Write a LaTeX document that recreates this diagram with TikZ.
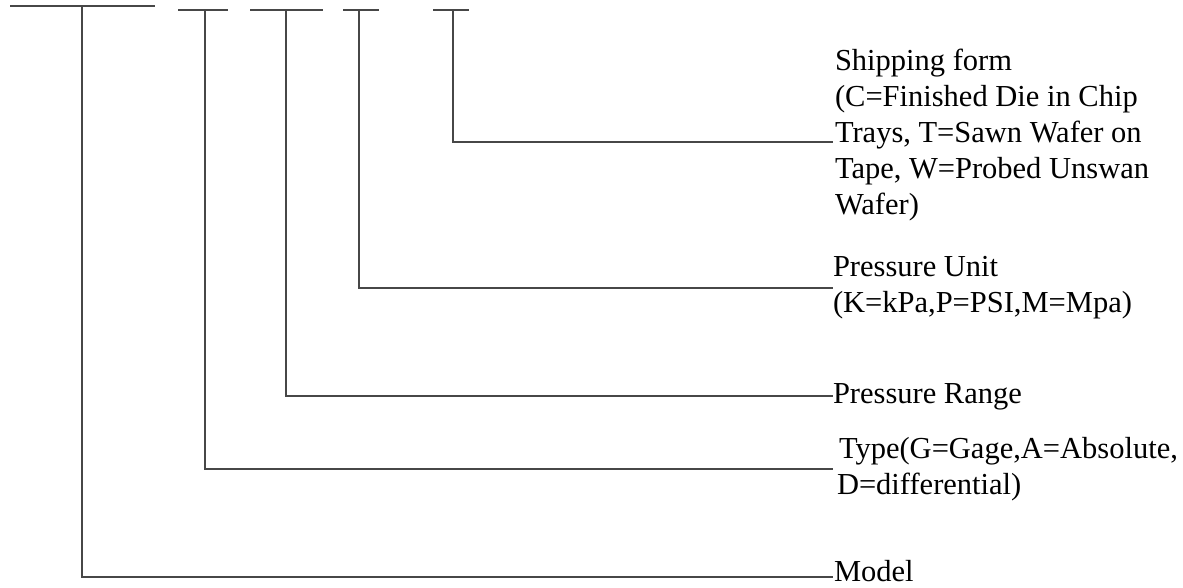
\documentclass[tikz,border=0pt]{standalone}
\usepackage{fontspec}
\setmainfont{Liberation Serif}
\begin{document}
\begin{tikzpicture}[x=1pt,y=-1pt,
  wire/.style={line width=1.4pt, draw=black!72},
  lbl/.style={anchor=base west, inner sep=0pt, outer sep=0pt, font=\fontsize{30.5}{36}\selectfont}]
\useasboundingbox (0,0) rectangle (1183,587);
% code template bars
\coordinate (b1l) at (10,6);   \coordinate (b1r) at (155,6);   \coordinate (s1) at (82,6);
\coordinate (b2l) at (178,10); \coordinate (b2r) at (228,10);  \coordinate (s2) at (205,10);
\coordinate (b3l) at (250,10); \coordinate (b3r) at (323,10);  \coordinate (s3) at (286,10);
\coordinate (b4l) at (343,10); \coordinate (b4r) at (379,10);  \coordinate (s4) at (359,10);
\coordinate (b5l) at (433,10); \coordinate (b5r) at (469,10);  \coordinate (s5) at (453,10);
\foreach \i in {1,...,5} { \draw[wire] (b\i l) -- (b\i r); }
% line ends
\coordinate (e5) at (833,142);
\coordinate (e4) at (833,288);
\coordinate (e3) at (833,396);
\coordinate (e2) at (833,469);
\coordinate (e1) at (833,577);
% labels
\node[lbl] (ship1) at (835,70)  {Shipping form};
\node[lbl] (ship2) at (835,106) {(C=Finished Die in Chip};
\node[lbl] (ship3) at (835,142) {Trays, T=Sawn Wafer on};
\node[lbl] (ship4) at (835,178) {Tape, W=Probed Unswan};
\node[lbl] (ship5) at (835,214) {Wafer)};
\node[lbl] (unit1) at (833,276) {Pressure Unit};
\node[lbl] (unit2) at (833,312) {(K=kPa,P=PSI,M=Mpa)};
\node[lbl] (range) at (833,403) {Pressure Range};
\node[lbl] (type1) at (839,458) {Type(G=Gage,A=Absolute,};
\node[lbl] (type2) at (837,494) {D=differential)};
\node[lbl] (model) at (834,581) {Model};
% connectors
\draw[wire] (s5) |- (e5);
\draw[wire] (s4) |- (e4);
\draw[wire] (s3) |- (e3);
\draw[wire] (s2) |- (e2);
\draw[wire] (s1) |- (e1);
\end{tikzpicture}
\end{document}
